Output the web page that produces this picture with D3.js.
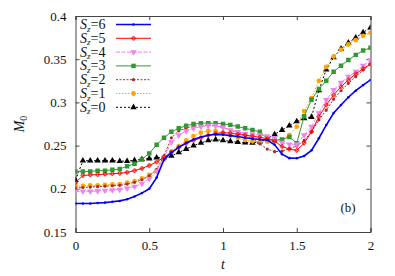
<!DOCTYPE html>
<html><head><meta charset="utf-8">
<script src="https://cdn.jsdelivr.net/npm/d3@7"></script>
<style>body{margin:0;background:#fff}svg{display:block}</style>
</head><body>
<svg id="c" width="395" height="276"></svg>
<script>
const tValues = d3.range(41).map(i => +(i*0.05).toFixed(2));
const labels = ["6","5","4","3","2","1","0"];
const sz6 = [0.183,0.183,0.183,0.1835,0.184,0.185,0.186,0.188,0.191,0.195,0.200,0.213,0.234,0.242,0.248,0.253,0.257,0.260,0.262,0.263,0.2625,0.2615,0.2605,0.259,0.258,0.257,0.2565,0.251,0.240,0.2355,0.2353,0.238,0.2445,0.2585,0.2738,0.2877,0.297,0.306,0.3135,0.320,0.326];
const sz5 = [0.207,0.2155,0.216,0.2165,0.217,0.2175,0.218,0.219,0.221,0.2235,0.227,0.231,0.2365,0.2425,0.248,0.2525,0.256,0.259,0.262,0.264,0.265,0.2645,0.263,0.262,0.261,0.2595,0.258,0.255,0.249,0.246,0.2445,0.2528,0.266,0.2835,0.297,0.3086,0.318,0.326,0.333,0.339,0.3444];
const sz4 = [0.197,0.197,0.197,0.1975,0.198,0.1985,0.199,0.2005,0.2025,0.206,0.2115,0.2205,0.236,0.254,0.262,0.267,0.270,0.272,0.273,0.273,0.271,0.268,0.266,0.264,0.263,0.262,0.261,0.259,0.2535,0.2515,0.2515,0.262,0.272,0.2877,0.3028,0.3144,0.3228,0.3298,0.3355,0.3425,0.349];
const sz3 = [0.220,0.220,0.220,0.221,0.221,0.222,0.223,0.226,0.229,0.234,0.241,0.251,0.259,0.266,0.270,0.273,0.275,0.276,0.276,0.276,0.275,0.274,0.272,0.270,0.268,0.266,0.258,0.2565,0.257,0.260,0.2528,0.284,0.303,0.3155,0.325,0.3355,0.3425,0.349,0.355,0.360,0.3633];
const sz2 = [0.201,0.2015,0.202,0.2025,0.203,0.2035,0.204,0.2055,0.2075,0.2105,0.215,0.2225,0.238,0.259,0.267,0.2705,0.2725,0.2735,0.2735,0.273,0.271,0.268,0.265,0.262,0.258,0.252,0.246,0.243,0.2435,0.2465,0.2495,0.256,0.266,0.2796,0.291,0.3037,0.3135,0.3221,0.3298,0.3375,0.3444];
const sz1 = [0.203,0.2035,0.204,0.204,0.2045,0.205,0.2055,0.207,0.209,0.212,0.216,0.2205,0.234,0.243,0.2495,0.256,0.261,0.265,0.267,0.267,0.2645,0.2615,0.259,0.2565,0.255,0.2545,0.2545,0.2555,0.257,0.262,0.272,0.290,0.305,0.325,0.341,0.353,0.361,0.367,0.372,0.377,0.3805];
const sz0 = [0.210,0.2325,0.2325,0.2325,0.2325,0.2325,0.232,0.232,0.233,0.234,0.235,0.236,0.236,0.238,0.242,0.246,0.250,0.253,0.256,0.257,0.256,0.255,0.254,0.2535,0.253,0.2545,0.258,0.263,0.268,0.273,0.278,0.2815,0.283,0.314,0.338,0.352,0.362,0.369,0.375,0.381,0.3865];
const xTicks = [0,0.5,1,1.5,2];
const yTicks = [0.15,0.2,0.25,0.3,0.35,0.4];

const seriesValues = [sz6,sz5,sz4,sz3,sz2,sz1,sz0];
const styles = [
  {color:"#0000ff", width:1.6, dash:null, sym:d3.symbolCircle, size:5},
  {color:"#ff0000", width:1, dash:null, sym:d3.symbolCross, size:8},
  {color:"#ee82ee", width:1, dash:"4,1.5", sym:d3.symbolTriangle, size:18, flip:true},
  {color:"#2e9b2e", width:1, dash:null, sym:d3.symbolSquare, size:20},
  {color:"#a52a2a", width:1, dash:"2,1.5", sym:d3.symbolCircle, size:8},
  {color:"#ffa500", width:1, dash:"1.5,1.5", sym:d3.symbolCircle, size:18},
  {color:"#000000", width:1, dash:"2,2", sym:d3.symbolTriangle, size:18}
];

const svg = d3.select("#c");
const L=75.5, R=370.5, T=16, B=232;
const x = d3.scaleLinear().domain([0,2]).range([L,R]);
const y = d3.scaleLinear().domain([0.15,0.4]).range([B,T]);
const font = "'Liberation Serif', 'Times New Roman', serif";

const ax = svg.append("g").style("font-family",font).style("font-size","13px");
ax.append("g").attr("transform",`translate(0,${B})`).call(d3.axisBottom(x).tickValues(xTicks).tickSize(-4).tickPadding(9).tickFormat(d=>d3.format("")(d)));
ax.append("g").attr("transform",`translate(0,${T})`).call(d3.axisTop(x).tickValues(xTicks).tickSize(-4).tickFormat(""));
ax.append("g").attr("transform",`translate(${L},0)`).call(d3.axisLeft(y).tickValues(yTicks).tickSize(-4).tickPadding(9).tickFormat(d=>d3.format("")(+d.toFixed(2))));
ax.append("g").attr("transform",`translate(${R},0)`).call(d3.axisRight(y).tickValues(yTicks).tickSize(-4).tickFormat(""));
ax.selectAll("g").attr("font-family",null).attr("font-size",null);
ax.selectAll(".domain").attr("stroke","#444");
ax.selectAll(".tick line").attr("stroke","#444");
ax.selectAll("text").attr("fill","#111");

svg.append("clipPath").attr("id","clp").append("rect").attr("x",L).attr("y",T).attr("width",R-L).attr("height",B-T);
const plot = svg.append("g").attr("clip-path","url(#clp)");
const line = d3.line().x((d,i)=>x(tValues[i])).y(d=>y(d));

for (let k=seriesValues.length-1;k>=0;k--){
  const s = styles[k], vals = seriesValues[k];
  const g = plot.append("g");
  g.append("path").attr("d",line(vals)).attr("fill","none").attr("stroke",s.color).attr("stroke-width",s.width).attr("stroke-dasharray",s.dash);
  const sym = d3.symbol().type(s.sym).size(s.size);
  const isCross = s.sym===d3.symbolCross;
  g.selectAll("path.m").data(vals).join("path").attr("class","m")
    .attr("d",sym)
    .attr("transform",(d,i)=>`translate(${x(tValues[i])},${y(d)})${s.flip?" rotate(180)":""}`)
    .attr("fill",isCross?"none":s.color)
    .attr("stroke",isCross?s.color:"none").attr("stroke-width",0.8);
}

const lg = svg.append("g").style("font-family",font);
labels.forEach((lab,k)=>{
  const s = styles[k];
  const cy = 24.5 + k*13.8;
  const tx = lg.append("text").attr("x",80).attr("y",cy+4.5).style("font-size","14px").attr("fill","#111");
  tx.append("tspan").attr("font-style","italic").text("S");
  tx.append("tspan").style("font-size","9px").attr("font-style","italic").attr("dy",2.5).text("z");
  tx.append("tspan").attr("dy",-2.5).text("="+lab);
  lg.append("line").attr("x1",116).attr("x2",151).attr("y1",cy).attr("y2",cy).attr("stroke",s.color).attr("stroke-width",s.width).attr("stroke-dasharray",s.dash);
  const isCross = s.sym===d3.symbolCross;
  lg.append("path").attr("d",d3.symbol().type(s.sym).size(s.size)()).attr("transform",`translate(133.5,${cy})${s.flip?" rotate(180)":""}`)
    .attr("fill",isCross?"none":s.color).attr("stroke",isCross?s.color:"none").attr("stroke-width",0.8);
});

const yt = svg.append("text").attr("transform","translate(24,124) rotate(-90)").attr("text-anchor","middle").style("font-family",font).style("font-size","14px").attr("fill","#111");
yt.append("tspan").attr("font-style","italic").text("M");
yt.append("tspan").style("font-size","10px").attr("dy",3).text("0");
svg.append("text").attr("x",223).attr("y",269).attr("text-anchor","middle").style("font-family",font).attr("font-style","italic").style("font-size","14px").attr("fill","#111").text("t");
svg.append("text").attr("x",348).attr("y",212).attr("text-anchor","middle").style("font-family",font).style("font-size","13px").attr("fill","#111").text("(b)");
</script>
</body></html>
